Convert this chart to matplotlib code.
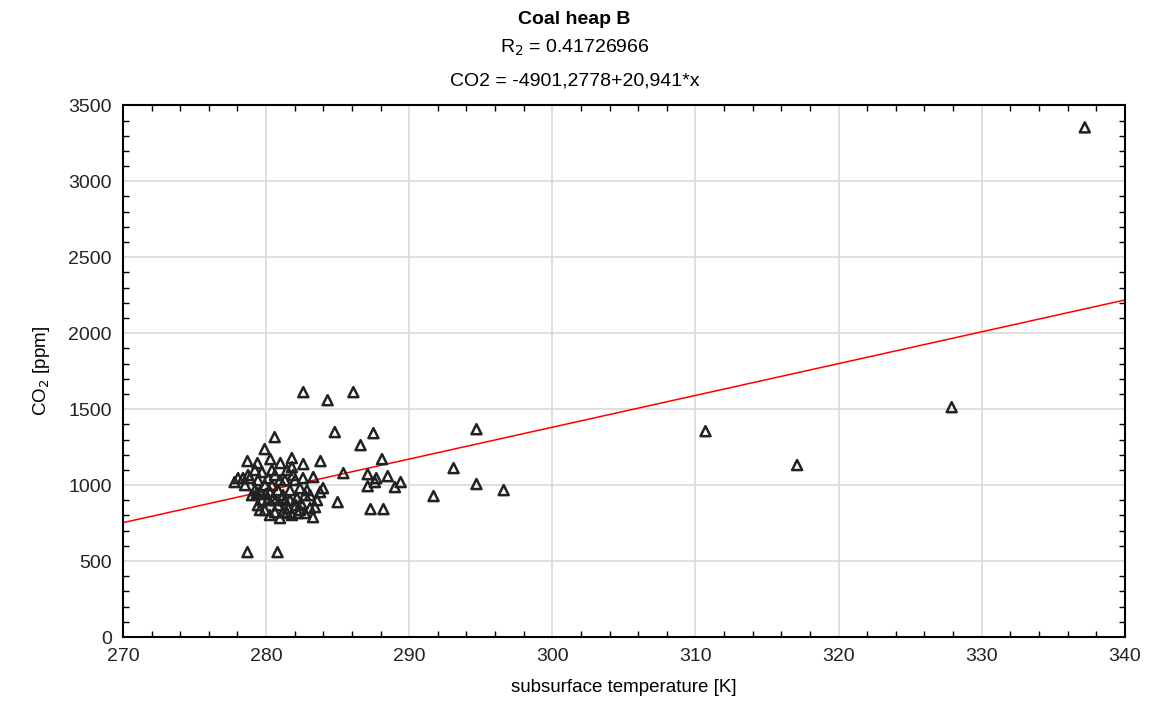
import numpy as np
import matplotlib
matplotlib.use("Agg")
import matplotlib.pyplot as plt
from matplotlib.ticker import MultipleLocator

plt.rcParams['font.family'] = ['Liberation Sans', 'DejaVu Sans']

# scattered points
temp_outer = [337.2, 327.9, 317.1, 310.7, 296.6, 294.7, 294.7, 293.1, 291.7, 289.4,
              289.0, 288.5, 288.1, 288.2, 287.3, 287.5, 287.6, 287.7, 287.1, 287.1,
              286.6, 286.1, 285.4, 285.0, 284.8, 284.3, 282.6, 283.8, 283.98, 283.3,
              282.6, 281.8, 281.8, 280.6, 279.9, 278.7, 279.4, 280.3, 281.0, 277.8,
              278.7, 280.8]
co2_outer = [3355, 1513, 1132, 1355, 967, 1007, 1368, 1112, 928, 1020,
             987, 1059, 1171, 842, 842, 1342, 1020, 1046, 1072, 993,
             1263, 1612, 1079, 888, 1349, 1559, 1612, 1158, 980, 1053,
             1138, 1178, 1118, 1316, 1237, 1158, 1145, 1171, 1145, 1020,
             559, 559]

# dense cluster around 278-284 K
temp_cluster = [278.04, 278.53, 278.87, 279.22, 279.43, 279.71, 279.92, 280.13, 280.27, 279.71,
                279.43, 279.92, 280.13, 280.41, 280.62, 280.83, 280.97, 281.11, 281.32, 281.32,
                281.53, 281.67, 281.88, 282.02, 282.16, 282.37, 282.37, 282.58, 282.72, 282.86,
                283.07, 283.28, 283.56, 280.27, 280.62, 280.83, 280.97, 281.18, 281.81, 282.09,
                279.22, 278.74, 279.01, 279.57, 278.39, 281.46, 280.41, 282.72, 282.23, 281.46,
                280.69, 279.99, 281.67, 282.44, 283.07, 283.42, 279.36, 280.48, 281.18, 279.57,
                283.77]
co2_cluster = [1046, 1000, 1046, 967, 1033, 1086, 1000, 1046, 954, 901,
               868, 836, 901, 1000, 1066, 967, 1033, 914, 1033, 901,
               849, 967, 1066, 1033, 914, 980, 836, 1046, 934, 967,
               849, 789, 901, 803, 822, 868, 783, 822, 803, 868,
               1099, 1066, 934, 954, 1046, 1099, 1099, 816, 816, 816,
               901, 941, 901, 882, 934, 855, 947, 914, 934, 836,
               954]

intercept = -4901.2778
slope = 20.941

temp = np.array(temp_outer + temp_cluster)
co2 = np.array(co2_outer + co2_cluster)

fig = plt.figure(figsize=(11.49, 7.07), dpi=100)
ax = fig.add_axes([0.107, 0.099, 0.872, 0.752])

xs = np.array([270, 340])
ax.plot(xs, intercept + slope * xs, color='red', lw=1.1, zorder=2)
ax.scatter(temp, co2, marker='^', s=52, facecolors='none', edgecolors='#222222',
           linewidths=1.8, zorder=3)

ax.set_xlim(270, 340)
ax.set_ylim(0, 3500)
ax.xaxis.set_major_locator(MultipleLocator(10))
ax.xaxis.set_minor_locator(MultipleLocator(2))
ax.yaxis.set_major_locator(MultipleLocator(500))
ax.yaxis.set_minor_locator(MultipleLocator(100))
ax.grid(True, which='major', color='#d9d9d9', lw=1.2, zorder=0)
ax.set_axisbelow(True)
ax.tick_params(which='major', length=0, labelsize=14, pad=8, labelcolor='#222222')
ax.tick_params(which='minor', direction='in', length=4, width=1, top=True, right=True)
for sp in ax.spines.values():
    sp.set_linewidth(1.5)

ax.set_xlabel('subsurface temperature [K]', fontsize=13.5, labelpad=10)
ax.set_ylabel('CO$_2$ [ppm]', fontsize=13.5, labelpad=12)

fig.text(0.5, 0.972, 'Coal heap B', ha='center', va='center', fontsize=14, fontweight='bold')
fig.text(0.5, 0.932, 'R$_2$ = 0.41726966', ha='center', va='center', fontsize=14)
fig.text(0.5, 0.885, 'CO2 = -4901,2778+20,941*x', ha='center', va='center', fontsize=14)

fig.savefig('out.png', dpi=100, facecolor='white')
